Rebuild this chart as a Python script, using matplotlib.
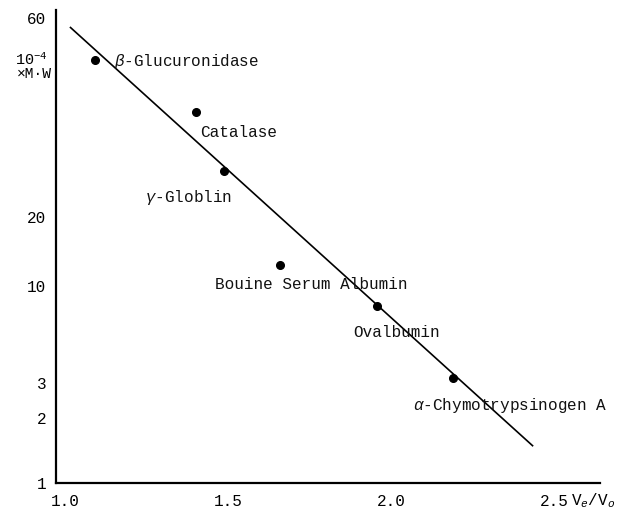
import numpy as np
import matplotlib
matplotlib.use("Agg")
import matplotlib.pyplot as plt

# ---- data ----
proteins = [r"$\beta$-Glucuronidase", "Catalase", r"$\gamma$-Globlin", "Bouine Serum Albumin",
            "Ovalbumin", r"$\alpha$-Chymotrypsinogen A"]
ve_vo = [1.092, 1.402, 1.488, 1.660, 1.957, 2.190]
mw = [47.6, 35.7, 25.8, 12.3, 7.8, 3.19]          # 10^-4 x M.W
fit_x = [1.015, 2.436]
fit_y = [57.1, 1.48]
xticks = [1.0, 1.5, 2.0, 2.5]
xticklabels = ["1.0", "1.5", "2.0", "2.5"]
yticks = [1, 2, 3, 10, 20, 60]
yticklabels = ["1", "2", "3", "10", "20", "60"]
# axis as drawn in the original figure (non-uniform log spacing)
axis_vals = [0.1, 1, 2, 3, 10, 20, 60, 1000]
axis_pos = [-222, 0, 65, 100, 197, 266, 465, 975]

# label offsets (points) relative to each dot
label_off = [(14, -1), (3, -15), (-57, -19), (-47, -14), (-17, -19), (-29, -20)]

FONT = "Liberation Mono"
plt.rcParams["font.family"] = [FONT, "DejaVu Sans"]
plt.rcParams["mathtext.fontset"] = "custom"
plt.rcParams["mathtext.rm"] = FONT
plt.rcParams["mathtext.it"] = FONT + ":italic"
plt.rcParams["mathtext.bf"] = FONT + ":bold"

lv = np.log10(axis_vals)
ap = np.array(axis_pos, dtype=float)

def fwd(v):
    v = np.clip(np.asarray(v, dtype=float), 1e-6, None)
    return np.interp(np.log10(v), lv, ap)

def inv(p):
    return 10 ** np.interp(np.asarray(p, dtype=float), ap, lv)

fig = plt.figure(figsize=(6.34, 5.12), dpi=100)
ax = fig.add_axes([56 / 634, 29 / 512, 544 / 634, 473 / 512])
ax.set_yscale("function", functions=(fwd, inv))
ax.set_xlim(0.9724, 2.641)
ax.set_ylim(1, 62.7)

ax.plot(fit_x, fit_y, color="black", lw=1.2, solid_capstyle="butt")
ax.plot(ve_vo, mw, "o", color="black", ms=5.5, ls="none")

for name, x, y, off in zip(proteins, ve_vo, mw, label_off):
    ax.annotate(name, (x, y), xytext=off, textcoords="offset points",
                fontsize=11.5, va="center", ha="left", color="#111111")

for s in ["top", "right"]:
    ax.spines[s].set_visible(False)
for s in ["left", "bottom"]:
    ax.spines[s].set_linewidth(1.6)
    ax.spines[s].set_color("black")

ax.set_xticks(xticks)
ax.set_xticklabels(xticklabels, fontsize=11.5)
ax.set_yticks(yticks)
ax.set_yticklabels(yticklabels, fontsize=11.5)
ax.minorticks_off()
ax.tick_params(axis="both", length=0)
ax.tick_params(axis="y", pad=7)
ax.tick_params(axis="x", pad=8)

fig.text(48 / 634, 1 - 60 / 512, r"10$^{-4}$", ha="right", va="center", fontsize=11)
fig.text(52 / 634, 1 - 74 / 512, "×M·W", ha="right", va="center", fontsize=10.5)
fig.text(571 / 634, 1 - 501 / 512, r"V$_e$/V$_o$", ha="left", va="center", fontsize=11.5)

fig.savefig("out.png", dpi=100, facecolor="white")
